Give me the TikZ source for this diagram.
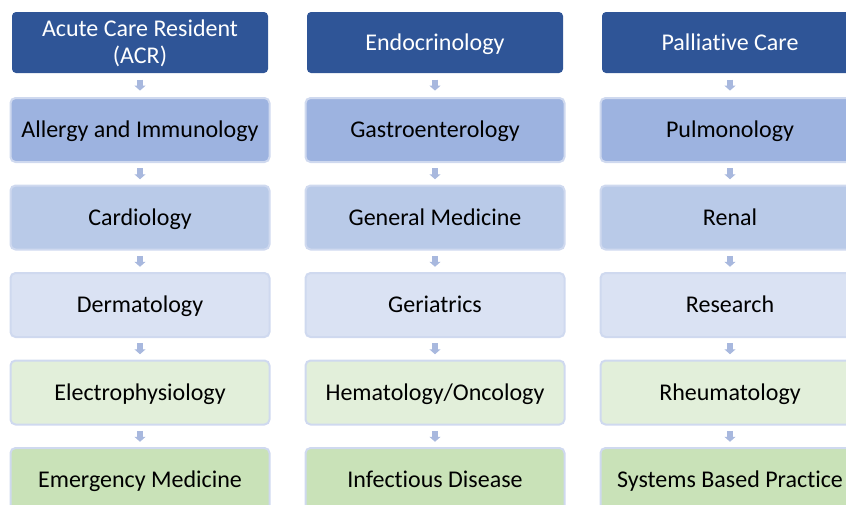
\documentclass[tikz,border=0pt]{standalone}
\usepackage{fontspec}
\setmainfont[Ligatures={NoCommon}, RawFeature={-liga;-dlig}]{Carlito}
\usetikzlibrary{arrows.meta,calc}
\definecolor{hdr}{HTML}{2F5597}
\definecolor{rowA}{HTML}{9DB3E0}
\definecolor{rowB}{HTML}{B9CAE8}
\definecolor{rowC}{HTML}{DAE2F3}
\definecolor{rowD}{HTML}{E2EFDA}
\definecolor{rowE}{HTML}{C9E2B8}
\definecolor{bord}{HTML}{CFD9EF}
\definecolor{arr}{HTML}{A8B8DE}
\tikzset{
  txt/.style={font=\fontsize{24}{27}\selectfont, align=center, inner sep=0pt, text height=17pt, text depth=1.5pt},
  hdrbox/.style={txt, fill=hdr, text=white, rounded corners=4pt, minimum width=256pt, minimum height=61pt},
  hdrtwo/.style={hdrbox, text height=44pt},
  catbox/.style={txt, draw=bord, line width=2pt, rounded corners=5pt, text=black, minimum width=259pt, minimum height=64pt},
  blockarrow/.style={draw=arr, line width=6pt, -{Triangle[width=11pt,length=5pt]}}
}
\newcommand{\flowarrow}[2]{%
  \coordinate (m-#1-#2) at ($(#1.south)!0.5!(#2.north)$);
  \draw[blockarrow] ([yshift=5.5pt]m-#1-#2) -- ([yshift=-5.5pt]m-#1-#2);}
\begin{document}
\begin{tikzpicture}[x=1pt,y=-1pt]
\useasboundingbox (0,0) rectangle (846,504);
\clip (0,0) rectangle (846,504);
% column 1
\node[hdrtwo, minimum height=61pt] (h1) at (140,42.5) {Acute Care Resident\\(ACR)};
\node[catbox, fill=rowA] (a1) at (140,130) {Allergy and Immunology};
\node[catbox, fill=rowB] (b1) at (140,217.5) {Cardiology};
\node[catbox, fill=rowC] (c1) at (140,305) {Dermatology};
\node[catbox, fill=rowD] (d1) at (140,392.5) {Electrophysiology};
\node[catbox, fill=rowE] (e1) at (140,480) {Emergency Medicine};
% column 2
\node[hdrbox] (h2) at (435,42.5) {Endocrinology};
\node[catbox, fill=rowA] (a2) at (435,130) {Gastroenterology};
\node[catbox, fill=rowB] (b2) at (435,217.5) {General Medicine};
\node[catbox, fill=rowC] (c2) at (435,305) {Geriatrics};
\node[catbox, fill=rowD] (d2) at (435,392.5) {Hematology/Oncology};
\node[catbox, fill=rowE] (e2) at (435,480) {Infectious Disease};
% column 3
\node[hdrbox] (h3) at (730,42.5) {Palliative Care};
\node[catbox, fill=rowA] (a3) at (730,130) {Pulmonology};
\node[catbox, fill=rowB] (b3) at (730,217.5) {Renal};
\node[catbox, fill=rowC] (c3) at (730,305) {Research};
\node[catbox, fill=rowD] (d3) at (730,392.5) {Rheumatology};
\node[catbox, fill=rowE] (e3) at (730,480) {Systems Based Practice};
% arrows
\foreach \c in {1,2,3}{
  \flowarrow{h\c}{a\c}
  \flowarrow{a\c}{b\c}
  \flowarrow{b\c}{c\c}
  \flowarrow{c\c}{d\c}
  \flowarrow{d\c}{e\c}
}
\end{tikzpicture}
\end{document}
